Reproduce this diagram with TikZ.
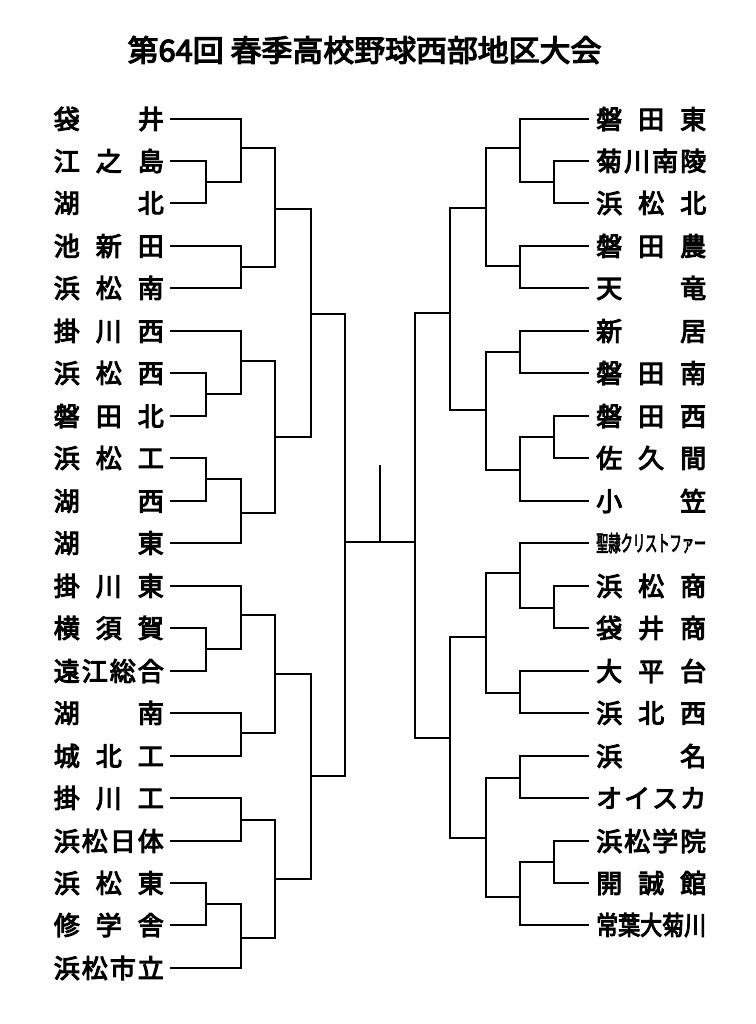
\documentclass[tikz,border=0pt]{standalone}
\usepackage{fontspec}
\setmainfont{Noto Sans CJK JP}[FakeBold=4]
\usepackage{graphicx}
\newcommand\tm[1]{\makebox[110pt][s]{#1}}
\begin{document}
\begin{tikzpicture}[x=1pt,y=-1pt,
  team/.style={inner ysep=0pt,font=\fontsize{26}{26}\selectfont},
  lteam/.style={team,anchor=east,inner xsep=7pt},
  rteam/.style={team,anchor=west,inner xsep=8pt},
  br/.style={line width=2pt,line cap=rect,line join=miter}]
\useasboundingbox[fill=white] (0,0) rectangle (755,1024);
\node[font=\fontsize{30}{30}\selectfont] (title) at (364.5,50) {\scalebox{1.03}[1]{第64回 春季高校野球西部地区大会}};
% left teams
\node[lteam] (L1) at (171,119) {\tm{袋\hfil 井}};
\node[lteam] (L2) at (171,161) {\tm{江\hfil 之\hfil 島}};
\node[lteam] (L3) at (171,203) {\tm{湖\hfil 北}};
\node[lteam] (L4) at (171,246) {\tm{池\hfil 新\hfil 田}};
\node[lteam] (L5) at (171,288) {\tm{浜\hfil 松\hfil 南}};
\node[lteam] (L6) at (171,331) {\tm{掛\hfil 川\hfil 西}};
\node[lteam] (L7) at (171,373) {\tm{浜\hfil 松\hfil 西}};
\node[lteam] (L8) at (171,416) {\tm{磐\hfil 田\hfil 北}};
\node[lteam] (L9) at (171,458) {\tm{浜\hfil 松\hfil 工}};
\node[lteam] (L10) at (171,501) {\tm{湖\hfil 西}};
\node[lteam] (L11) at (171,543) {\tm{湖\hfil 東}};
\node[lteam] (L12) at (171,586) {\tm{掛\hfil 川\hfil 東}};
\node[lteam] (L13) at (171,628) {\tm{横\hfil 須\hfil 賀}};
\node[lteam] (L14) at (171,671) {\tm{遠\hfil 江\hfil 総\hfil 合}};
\node[lteam] (L15) at (171,713) {\tm{湖\hfil 南}};
\node[lteam] (L16) at (171,756) {\tm{城\hfil 北\hfil 工}};
\node[lteam] (L17) at (171,798) {\tm{掛\hfil 川\hfil 工}};
\node[lteam] (L18) at (171,841) {\tm{浜\hfil 松\hfil 日\hfil 体}};
\node[lteam] (L19) at (171,883) {\tm{浜\hfil 松\hfil 東}};
\node[lteam] (L20) at (171,925) {\tm{修\hfil 学\hfil 舎}};
\node[lteam] (L21) at (171,968) {\tm{浜\hfil 松\hfil 市\hfil 立}};
% right teams
\node[rteam] (R1) at (588,119) {\tm{磐\hfil 田\hfil 東}};
\node[rteam] (R2) at (588,161) {\tm{菊\hfil 川\hfil 南\hfil 陵}};
\node[rteam] (R3) at (588,203) {\tm{浜\hfil 松\hfil 北}};
\node[rteam] (R4) at (588,246) {\tm{磐\hfil 田\hfil 農}};
\node[rteam] (R5) at (588,288) {\tm{天\hfil 竜}};
\node[rteam] (R6) at (588,331) {\tm{新\hfil 居}};
\node[rteam] (R7) at (588,373) {\tm{磐\hfil 田\hfil 南}};
\node[rteam] (R8) at (588,416) {\tm{磐\hfil 田\hfil 西}};
\node[rteam] (R9) at (588,458) {\tm{佐\hfil 久\hfil 間}};
\node[rteam] (R10) at (588,501) {\tm{小\hfil 笠}};
\node[rteam] (R11) at (588,543) {\scalebox{0.5556}[1]{\fontsize{22}{22}\selectfont 聖隷クリストファー}};
\node[rteam] (R12) at (588,586) {\tm{浜\hfil 松\hfil 商}};
\node[rteam] (R13) at (588,628) {\tm{袋\hfil 井\hfil 商}};
\node[rteam] (R14) at (588,671) {\tm{大\hfil 平\hfil 台}};
\node[rteam] (R15) at (588,713) {\tm{浜\hfil 北\hfil 西}};
\node[rteam] (R16) at (588,756) {\tm{浜\hfil 名}};
\node[rteam] (R17) at (588,798) {\tm{オ\hfil イ\hfil ス\hfil カ}};
\node[rteam] (R18) at (588,841) {\tm{浜\hfil 松\hfil 学\hfil 院}};
\node[rteam] (R19) at (588,883) {\tm{開\hfil 誠\hfil 館}};
\node[rteam] (R20) at (588,925) {\scalebox{0.846}[1]{常葉大菊川}};
% left joints
\coordinate (la1) at (206,182);
\coordinate (lb1) at (241,148);
\coordinate (lb2) at (241,267);
\coordinate (lc1) at (275,209);
\coordinate (la2) at (206,394);
\coordinate (lb3) at (241,361);
\coordinate (la3) at (206,479);
\coordinate (lb4) at (241,513);
\coordinate (lc2) at (275,437);
\coordinate (ld1) at (311,314);
\coordinate (la4) at (206,649);
\coordinate (lb5) at (241,615);
\coordinate (lb6) at (241,733);
\coordinate (lc3) at (275,674);
\coordinate (lb7) at (241,820);
\coordinate (la5) at (206,904);
\coordinate (lb8) at (241,938);
\coordinate (lc4) at (275,879);
\coordinate (ld2) at (311,776);
\coordinate (le) at (345,542);
% right joints
\coordinate (ra1) at (554,182);
\coordinate (rb1) at (520,148);
\coordinate (rb2) at (520,266);
\coordinate (rc1) at (486,208);
\coordinate (rb3) at (520,352);
\coordinate (ra2) at (554,437);
\coordinate (rb4) at (520,470);
\coordinate (rc2) at (486,410);
\coordinate (rd1) at (450,313);
\coordinate (ra3) at (554,608);
\coordinate (rb5) at (520,573);
\coordinate (rb6) at (520,693);
\coordinate (rc3) at (486,637);
\coordinate (rb7) at (520,778);
\coordinate (ra4) at (554,862);
\coordinate (rb8) at (520,897);
\coordinate (rc4) at (486,838);
\coordinate (rd2) at (450,738);
\coordinate (re) at (415,542);
\coordinate (ctop) at (380,466);
\coordinate (cmid) at (380,542);
% left bracket
\draw[br] (L2.east) -| (la1) |- (L3.east);
\draw[br] (L1.east) -| (lb1) |- (la1);
\draw[br] (L4.east) -| (lb2) |- (L5.east);
\draw[br] (lb1) -| (lc1) |- (lb2);
\draw[br] (L7.east) -| (la2) |- (L8.east);
\draw[br] (L6.east) -| (lb3) |- (la2);
\draw[br] (L9.east) -| (la3) |- (L10.east);
\draw[br] (la3) -| (lb4) |- (L11.east);
\draw[br] (lb3) -| (lc2) |- (lb4);
\draw[br] (lc1) -| (ld1) |- (lc2);
\draw[br] (L13.east) -| (la4) |- (L14.east);
\draw[br] (L12.east) -| (lb5) |- (la4);
\draw[br] (L15.east) -| (lb6) |- (L16.east);
\draw[br] (lb5) -| (lc3) |- (lb6);
\draw[br] (L17.east) -| (lb7) |- (L18.east);
\draw[br] (L19.east) -| (la5) |- (L20.east);
\draw[br] (la5) -| (lb8) |- (L21.east);
\draw[br] (lb7) -| (lc4) |- (lb8);
\draw[br] (lc3) -| (ld2) |- (lc4);
\draw[br] (ld1) -| (le) |- (ld2);
% right bracket
\draw[br] (R2.west) -| (ra1) |- (R3.west);
\draw[br] (R1.west) -| (rb1) |- (ra1);
\draw[br] (R4.west) -| (rb2) |- (R5.west);
\draw[br] (rb1) -| (rc1) |- (rb2);
\draw[br] (R6.west) -| (rb3) |- (R7.west);
\draw[br] (R8.west) -| (ra2) |- (R9.west);
\draw[br] (ra2) -| (rb4) |- (R10.west);
\draw[br] (rb3) -| (rc2) |- (rb4);
\draw[br] (rc1) -| (rd1) |- (rc2);
\draw[br] (R12.west) -| (ra3) |- (R13.west);
\draw[br] (R11.west) -| (rb5) |- (ra3);
\draw[br] (R14.west) -| (rb6) |- (R15.west);
\draw[br] (rb5) -| (rc3) |- (rb6);
\draw[br] (R16.west) -| (rb7) |- (R17.west);
\draw[br] (R18.west) -| (ra4) |- (R19.west);
\draw[br] (ra4) -| (rb8) |- (R20.west);
\draw[br] (rb7) -| (rc4) |- (rb8);
\draw[br] (rc3) -| (rd2) |- (rc4);
\draw[br] (rd1) -| (re) |- (rd2);
% final
\draw[br] (le) -- (re);
\draw[br] (ctop) -- (cmid);
\end{tikzpicture}
\end{document}
